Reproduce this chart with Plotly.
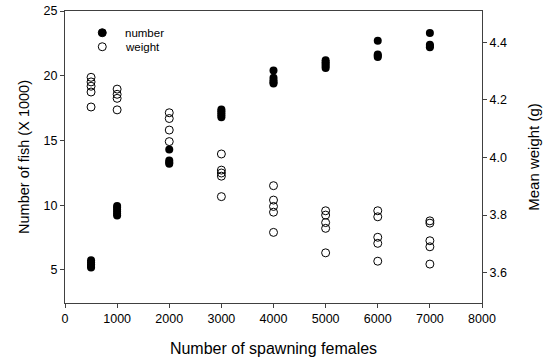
import plotly.graph_objects as go

# Spawning-female treatment levels
females = [500, 1000, 2000, 3000, 4000, 5000, 6000, 7000]

# Number of fish (x 1000) per replicate at each level
number = [
    [5.2, 5.3, 5.45, 5.6, 5.75],
    [9.2, 9.35, 9.5, 9.65, 9.8, 9.95],
    [14.3, 13.45, 13.3, 13.2],
    [16.8, 16.95, 17.1, 17.25, 17.4],
    [20.4, 19.85, 19.65, 19.5, 19.4],
    [20.6, 20.75, 20.9, 21.05, 21.2],
    [22.7, 21.65, 21.55, 21.45],
    [23.3, 22.4, 22.3, 22.2],
]

# Mean weight (g) per replicate at each level
weight = [
    [4.278, 4.262, 4.247, 4.227, 4.175],
    [4.237, 4.219, 4.205, 4.165],
    [4.155, 4.135, 4.095, 4.055],
    [4.012, 3.956, 3.946, 3.935, 3.864],
    [3.902, 3.852, 3.830, 3.810, 3.740],
    [3.815, 3.800, 3.774, 3.754, 3.669],
    [3.815, 3.794, 3.723, 3.702, 3.640],
    [3.780, 3.772, 3.711, 3.690, 3.630],
]

x_ticks = [0, 1000, 2000, 3000, 4000, 5000, 6000, 7000, 8000]
left_ticks = [5, 10, 15, 20, 25]
right_ticks = [3.6, 3.8, 4.0, 4.2, 4.4]
right_tick_text = ["3.6", "3.8", "4.0", "4.2", "4.4"]
legend_names = ["number", "weight"]


def flatten(levels, groups):
    xs, ys = [], []
    for lvl, vals in zip(levels, groups):
        for v in vals:
            xs.append(lvl)
            ys.append(v)
    return xs, ys


xn, yn = flatten(females, number)
xw, yw = flatten(females, weight)

FONT = "Liberation Sans, Arial, sans-serif"
AX = "#404040"

fig = go.Figure()
fig.add_trace(go.Scatter(
    x=xn, y=yn, mode="markers", name=legend_names[0],
    marker=dict(symbol="circle", size=8, color="black"),
    xaxis="x", yaxis="y", showlegend=False,
))
fig.add_trace(go.Scatter(
    x=xw, y=yw, mode="markers", name=legend_names[1],
    marker=dict(symbol="circle-open", size=8, color="black", line=dict(width=1)),
    xaxis="x", yaxis="y2", showlegend=False,
))

# Key in the upper-left corner
fig.add_trace(go.Scatter(
    x=[0.0894, 0.0894], y=[0.9256, 0.8776], mode="markers",
    marker=dict(symbol=["circle", "circle-open"], size=8, color="black",
                line=dict(width=1, color="black")),
    xaxis="x3", yaxis="y3", showlegend=False, hoverinfo="skip",
))
for name, yy in zip(legend_names, [0.9256, 0.8776]):
    fig.add_annotation(x=0.1398, y=yy, xref="paper", yref="paper",
                       text=name, showarrow=False, xanchor="left",
                       yanchor="middle", font=dict(size=11.5, family=FONT, color="black"))

fig.update_layout(
    width=546, height=360,
    margin=dict(l=65, r=64, t=11, b=57, autoexpand=False),
    paper_bgcolor="white", plot_bgcolor="white",
    font=dict(family=FONT, size=12.5, color="black"),
    xaxis=dict(
        range=[0, 8000], tickvals=x_ticks, ticks="outside", ticklen=4,
        tickcolor=AX, showline=True, linecolor=AX, linewidth=1, mirror=True,
        showgrid=False, zeroline=False, automargin=False,
        title=dict(text="Number of spawning females", font=dict(size=16), standoff=17),
    ),
    yaxis=dict(
        range=[2.45, 25], tickvals=left_ticks, ticks="outside", ticklen=4,
        tickcolor=AX, showline=True, linecolor=AX, linewidth=1,
        showgrid=False, zeroline=False, automargin=False,
        title=dict(text="Number of fish (X 1000)", font=dict(size=14.5), standoff=10),
    ),
    yaxis2=dict(
        range=[3.495, 4.508], tickvals=right_ticks, ticktext=right_tick_text,
        overlaying="y", side="right", anchor="x",
        ticks="outside", ticklen=4, tickcolor=AX,
        showline=True, linecolor=AX, linewidth=1,
        showgrid=False, zeroline=False, automargin=False,
        title=dict(text="Mean weight (g)", font=dict(size=15), standoff=22),
    ),
    xaxis3=dict(range=[0, 1], overlaying="x", visible=False, anchor="y3"),
    yaxis3=dict(range=[0, 1], overlaying="y", visible=False, anchor="x3"),
)

fig.write_html("out.html")
